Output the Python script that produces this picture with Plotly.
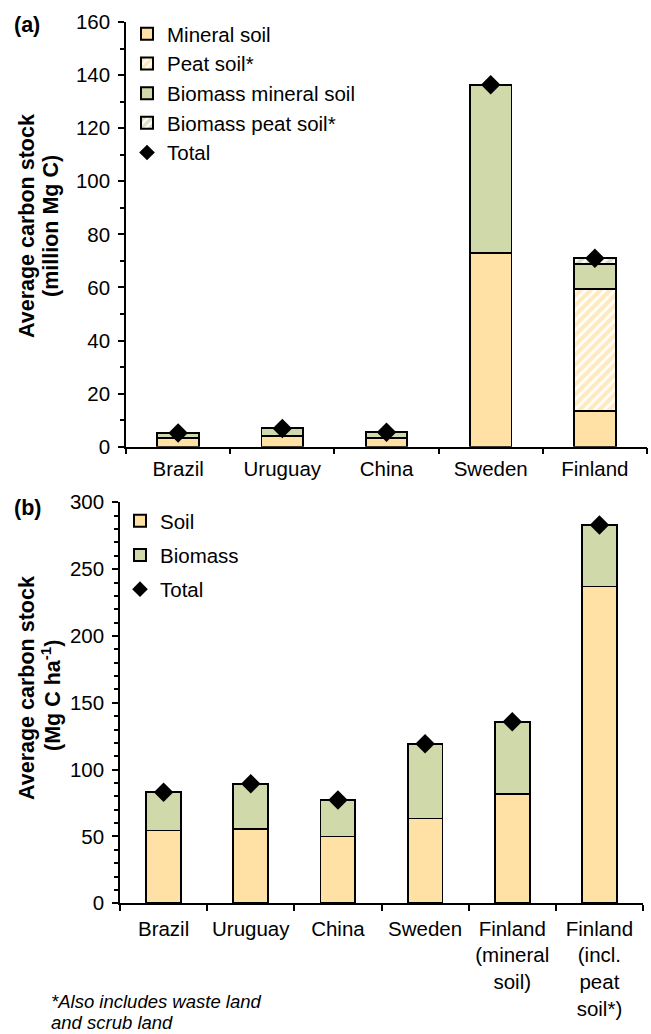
import plotly.graph_objects as go

W, H = 651, 1034
def fx(p): return p / W
def fy(p): return 1 - p / H

FONT = "Liberation Sans, Arial, sans-serif"
SOIL = "#FFE1A5"
BIO = "#CFD9AA"

# ---- Panel (a): total stock (million Mg C)
cats_a = ["Brazil", "Uruguay", "China", "Sweden", "Finland"]
mineral_soil = [3.3, 4.1, 3.4, 72.9, 13.4]
peat_soil = [0, 0, 0, 0, 46.0]
biomass_mineral = [1.9, 2.8, 2.0, 63.5, 9.3]
biomass_peat = [0, 0, 0, 0, 2.3]
total_a = [5.2, 6.9, 5.4, 136.4, 71.0]

# ---- Panel (b): stock per hectare (Mg C ha-1)
cats_b = ["Brazil", "Uruguay", "China", "Sweden",
          "Finland<br>(mineral<br>soil)", "Finland<br>(incl.<br>peat<br>soil*)"]
soil_b = [54.5, 55.5, 50.0, 63.5, 81.5, 237.0]
biomass_b = [28.5, 34.0, 27.3, 55.8, 54.3, 46.0]
total_b = [83.0, 89.5, 77.3, 119.3, 135.8, 283.0]

LINE = dict(color="black", width=1.8)

fig = go.Figure()
fig.add_bar(x=cats_a, y=mineral_soil, name="Mineral soil",
            marker=dict(color=SOIL, line=LINE), legend="legend")
fig.add_bar(x=cats_a, y=peat_soil, name="Peat soil*",
            marker=dict(color="white", line=LINE,
                        pattern=dict(shape="/", fgcolor="#FFD47E", bgcolor="white",
                                     size=7, solidity=0.6)), legend="legend")
fig.add_bar(x=cats_a, y=biomass_mineral, name="Biomass mineral soil",
            marker=dict(color=BIO, line=LINE), legend="legend")
fig.add_bar(x=cats_a, y=biomass_peat, name="Biomass peat soil*",
            marker=dict(color="white", line=LINE,
                        pattern=dict(shape="/", fgcolor="#B9C78A", bgcolor="white",
                                     size=7, solidity=0.6)), legend="legend")
fig.add_scatter(x=cats_a, y=total_a, name="Total", mode="markers",
                marker=dict(symbol="diamond", size=15, color="black"),
                legend="legend")

fig.add_bar(x=cats_b, y=soil_b, name="Soil", xaxis="x2", yaxis="y2",
            marker=dict(color=SOIL, line=LINE), legend="legend2", legendgroup="s")
fig.add_bar(x=cats_b, y=biomass_b, name="Biomass", xaxis="x2", yaxis="y2",
            marker=dict(color=BIO, line=LINE), legend="legend2", legendgroup="b")
fig.add_scatter(x=cats_b, y=total_b, name="Total", mode="markers", xaxis="x2", yaxis="y2",
                marker=dict(symbol="diamond", size=15, color="black"),
                legend="legend2", legendgroup="t")

tickfont = dict(family=FONT, size=20.5, color="black")
xcommon = dict(type="category", showline=True, linecolor="black", linewidth=1.5,
               ticks="outside", ticklen=6, tickwidth=1.5, tickcolor="black",
               tickson="boundaries", showgrid=False, zeroline=False, tickfont=tickfont,
               tickangle=0, automargin=False)
ycommon = dict(showline=True, linecolor="black", linewidth=1.5,
               ticks="outside", ticklen=6, tickwidth=1.5, tickcolor="black",
               showgrid=False, zeroline=False, tickfont=tickfont, automargin=False,
               ticklabelstandoff=4,
               minor=dict(dtick=10, ticks="outside", ticklen=4, tickwidth=1.5,
                          tickcolor="black", showgrid=False))

fig.update_layout(
    width=W, height=H, margin=dict(l=0, r=0, t=0, b=0, pad=0, autoexpand=False),
    plot_bgcolor="white", paper_bgcolor="white",
    barmode="stack", bargap=0.6,
    font=dict(family=FONT, size=20.5, color="black"),
    xaxis=dict(xcommon, domain=[fx(126), fx(647)], anchor="y", range=[-0.5, 4.5],
               ticklabelstandoff=3),
    yaxis=dict(ycommon, domain=[fy(446.7), fy(22)], anchor="x", range=[0, 160], dtick=20),
    xaxis2=dict(xcommon, domain=[fx(120), fx(643)], anchor="y2", range=[-0.5, 5.5],
                ticklabelstandoff=6),
    yaxis2=dict(ycommon, domain=[fy(903.3), fy(502.3)], anchor="x2", range=[0, 300], dtick=50),
    legend=dict(x=fx(127), y=fy(14), xanchor="left", yanchor="top",
                traceorder="normal", itemsizing="constant",
                bgcolor="rgba(0,0,0,0)", font=dict(family=FONT, size=20.5)),
    legend2=dict(x=fx(120), y=fy(501), xanchor="left", yanchor="top",
                 traceorder="grouped", itemsizing="constant", tracegroupgap=4.5,
                 bgcolor="rgba(0,0,0,0)", font=dict(family=FONT, size=20.5)),
    showlegend=True,
)

ann = []
def A(text, x, y, size, xanchor="center", yanchor="middle", angle=0, bold=False, italic=False):
    ann.append(dict(text=text, x=fx(x), y=fy(y), xref="paper", yref="paper",
                    showarrow=False, xanchor=xanchor, yanchor=yanchor, textangle=angle,
                    font=dict(family=FONT, size=size, color="black",
                              weight="bold" if bold else "normal",
                              style="italic" if italic else "normal")))

A("(a)", 12, 25, 21.5, xanchor="left", bold=True)
A("(b)", 12, 508, 21.5, xanchor="left", bold=True)
A("Average carbon stock", 27, 226, 21.5, angle=-90, bold=True)
A("(million Mg C)", 51, 226, 21.5, angle=-90, bold=True)
A("Average carbon stock", 27, 688, 21.5, angle=-90, bold=True)
A("(Mg C ha<sup>-1</sup>)", 51, 695, 21.5, angle=-90, bold=True)
A("*Also includes waste land", 49, 1001.7, 18.5, xanchor="left", italic=True)
A("and scrub land", 49, 1022.7, 18.5, xanchor="left", italic=True)
fig.update_layout(annotations=ann)

fig.write_html("out.html", config={"displayModeBar": False},
               post_script="document.body.style.margin='0';")
